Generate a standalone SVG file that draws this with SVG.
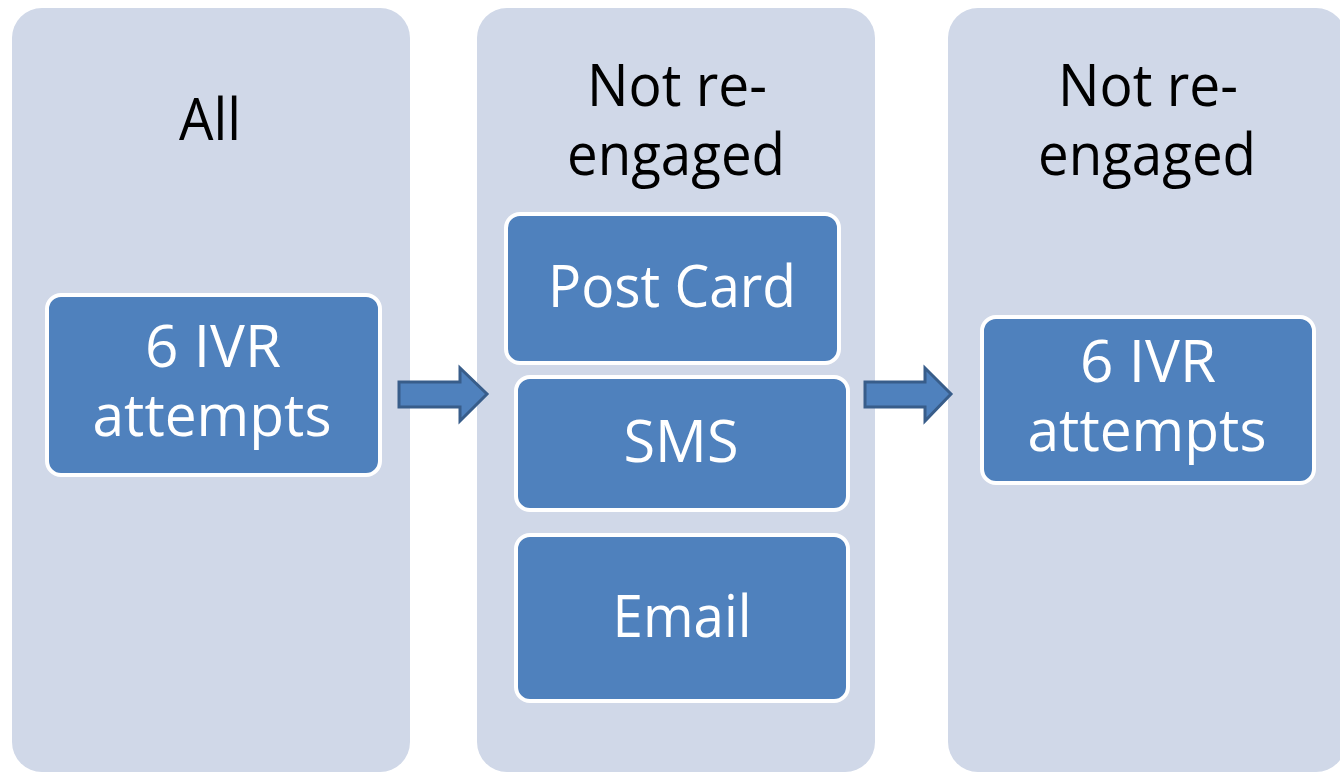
<svg xmlns="http://www.w3.org/2000/svg" width="1340" height="772" viewBox="0 0 1340 772">
<style>
.col{fill:#D0D8E8;}
.box{fill:#4F81BD;stroke:#FFFFFF;stroke-width:4;}
.hdr{font-family:"Open Sans","Liberation Sans",sans-serif;font-size:58px;fill:#000000;text-anchor:middle;}
.lbl{font-family:"Open Sans","Liberation Sans",sans-serif;font-size:58px;fill:#FFFFFF;text-anchor:middle;}
.arr{fill:#4F81BD;stroke:#385D8A;stroke-width:3;stroke-linejoin:miter;}
</style>
<rect width="1340" height="772" fill="#FFFFFF"/>
<g id="column-all">
<rect class="col" x="12" y="8" width="398" height="764" rx="30"/>
<text class="hdr" x="210" y="140" textLength="62" lengthAdjust="spacingAndGlyphs">All</text>
</g>
<g id="column-not-reengaged-1">
<rect class="col" x="477" y="8" width="398" height="764" rx="30"/>
<text class="hdr" x="677" y="106" textLength="180" lengthAdjust="spacingAndGlyphs">Not re-</text>
<text class="hdr" x="676" y="175" textLength="218" lengthAdjust="spacingAndGlyphs">engaged</text>
</g>
<g id="column-not-reengaged-2">
<rect class="col" x="948" y="8" width="398" height="764" rx="30"/>
<text class="hdr" x="1148" y="106" textLength="180" lengthAdjust="spacingAndGlyphs">Not re-</text>
<text class="hdr" x="1147" y="175" textLength="218" lengthAdjust="spacingAndGlyphs">engaged</text>
</g>
<g id="node-ivr-1">
<rect class="box" x="47" y="295" width="333" height="180" rx="14"/>
<text class="lbl" x="213" y="367" textLength="136" lengthAdjust="spacingAndGlyphs">6 IVR</text>
<text class="lbl" x="212" y="436" textLength="239" lengthAdjust="spacingAndGlyphs">attempts</text>
</g>
<g id="node-postcard">
<rect class="box" x="506" y="214" width="333" height="149" rx="14"/>
<text class="lbl" x="672" y="307" textLength="248" lengthAdjust="spacingAndGlyphs">Post Card</text>
</g>
<g id="node-sms">
<rect class="box" x="516" y="377" width="332" height="133" rx="14"/>
<text class="lbl" x="681" y="462" textLength="115" lengthAdjust="spacingAndGlyphs">SMS</text>
</g>
<g id="node-email">
<rect class="box" x="516" y="535" width="332" height="166" rx="14"/>
<text class="lbl" x="682" y="637" textLength="139" lengthAdjust="spacingAndGlyphs">Email</text>
</g>
<g id="node-ivr-2">
<rect class="box" x="982" y="317" width="332" height="166" rx="14"/>
<text class="lbl" x="1148" y="382" textLength="136" lengthAdjust="spacingAndGlyphs">6 IVR</text>
<text class="lbl" x="1147" y="451" textLength="239" lengthAdjust="spacingAndGlyphs">attempts</text>
</g>
<g id="connectors">
<path class="arr" d="M399,382 L460,382 L460,368 L487,394 L460,421 L460,407 L399,407 Z"/>
<path class="arr" d="M865,382 L925,382 L925,368 L951,394 L925,421 L925,407 L865,407 Z"/>
</g>
</svg>
